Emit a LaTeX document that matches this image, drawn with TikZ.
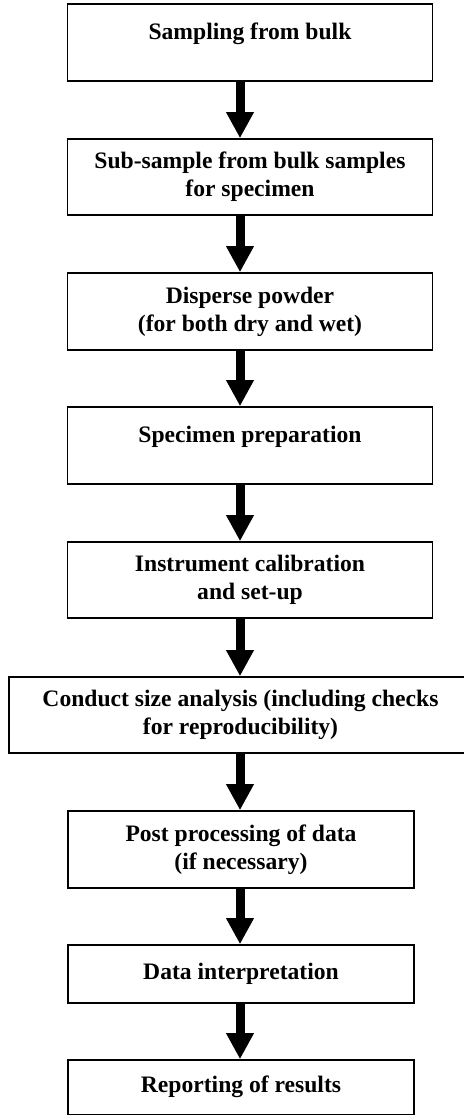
\documentclass[tikz,border=0pt]{standalone}
\usepackage{fontspec}
\setmainfont{Liberation Serif}
\usetikzlibrary{arrows.meta}

\tikzset{
  stepbox/.style={draw, line width=1.6pt, align=center, inner sep=0pt,
    font=\fontsize{23.6}{28}\selectfont\bfseries},
  upperbox/.style={stepbox, minimum width=365pt, minimum height=77pt},
  lowerbox/.style={stepbox, minimum width=346pt, minimum height=77pt},
  toptext/.style={text depth=23pt},
  flowarrow/.style={line width=9pt, -{Triangle[width=26pt,length=26pt]}}
}

\begin{document}
\begin{tikzpicture}[x=1pt,y=-1pt]
			\useasboundingbox (0,0) rectangle (463,1116);

			% Schritte
			\node[upperbox,toptext] (sampling) at (250,42.5) {Sampling from bulk};
			\node[upperbox,minimum height=76pt] (subsample) at (250,177) {Sub-sample from bulk samples\\for specimen};
			\node[upperbox] (disperse) at (250,311.5) {Disperse powder\\(for both dry and wet)};
			\node[upperbox,toptext] (preparation) at (250,445.5) {Specimen preparation};
			\node[upperbox,minimum height=76pt] (calibration) at (250,580) {Instrument calibration\\and set-up};
			\node[stepbox,minimum width=463pt,minimum height=76pt] (analysis) at (240.5,715) {Conduct size analysis (including checks\\for reproducibility)};
			\node[lowerbox] (postproc) at (241,849.5) {Post processing of data\\(if necessary)};
			\node[lowerbox,minimum height=58pt] (interpret) at (241,974) {Data interpretation};
			\node[lowerbox,minimum height=54.5pt] (reporting) at (241,1087.25) {Reporting of results};

			% Pfeile
			\coordinate (ax) at (240,0);
			\foreach \a/\b in {sampling/subsample,subsample/disperse,disperse/preparation,
			  preparation/calibration,calibration/analysis,analysis/postproc,
			  postproc/interpret,interpret/reporting}
			  \draw[flowarrow] (\a.south -| ax) -- (\b.north -| ax);

		\end{tikzpicture}
\end{document}
